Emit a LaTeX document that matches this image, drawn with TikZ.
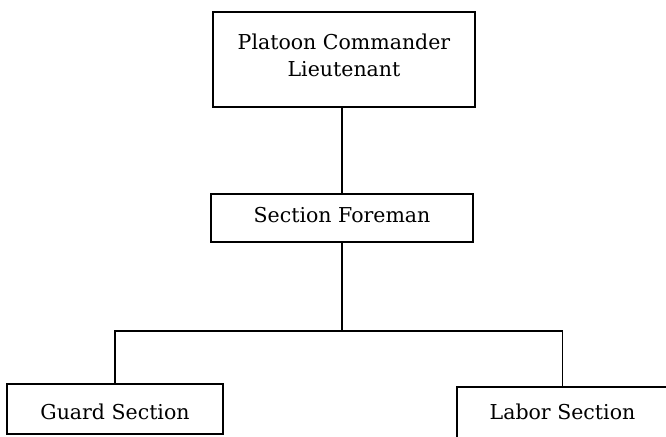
\documentclass[tikz,border=0pt]{standalone}
\usepackage{fontspec}
\setmainfont{DejaVu Serif}
\usepackage{tikz}

\begin{document}
\begin{tikzpicture}[x=1pt,y=-1pt,
    unit/.style={draw,line width=1.6pt,align=center,inner sep=0pt,
      font=\fontsize{20.5}{27}\selectfont},
    link/.style={line width=1.6pt}]

  \useasboundingbox (0,0) rectangle (666,436);
  \clip (0,0) rectangle (666,436);

  \node[unit,minimum width=262,minimum height=95,text depth=7.6pt] (cmd) at (344,59.5) {Platoon Commander\\Lieutenant};
  \node[unit,minimum width=262,minimum height=48,text height=15pt,text depth=7pt] (fore) at (342,218) {Section Foreman};
  \node[unit,minimum width=216,minimum height=50,text height=20pt,text depth=0pt] (guard) at (115,409) {Guard Section};
  \node[unit,minimum width=211,minimum height=53,text height=15.5pt,text depth=4pt] (labor) at (562.5,413.5) {Labor Section};

  \coordinate (bar) at (0,331);

  \draw[link] (cmd.south -| fore.north) -- (fore.north);
  \draw[link] (fore.south) -- (fore.south |- bar);
  \draw[link] (guard.north) -- (guard.north |- bar) -- (labor.north |- bar) -- (labor.north);

\end{tikzpicture}
\end{document}
